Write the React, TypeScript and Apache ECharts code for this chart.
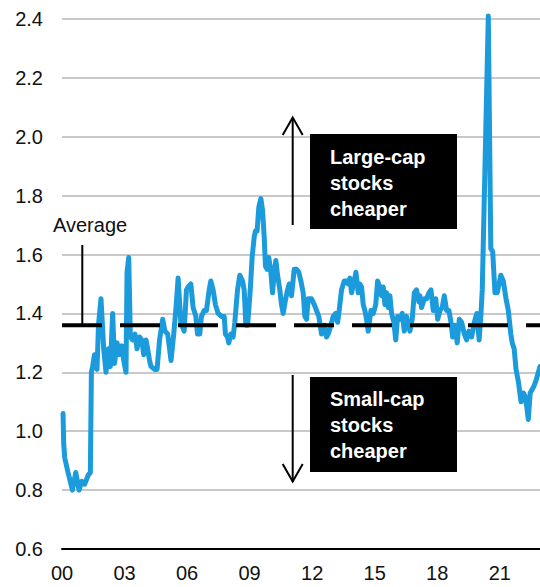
import React, { useEffect, useRef } from "react";
import * as echarts from "echarts";

// Years since 2000 (decimal) and large-cap / small-cap valuation ratio
const YEARS = [
  0.05, 0.08, 0.13, 0.29, 0.5, 0.66, 0.82, 0.95, 1.09, 1.25,
  1.36, 1.41, 1.47, 1.56, 1.68, 1.75, 1.87, 2.0, 2.11, 2.23,
  2.32, 2.43, 2.52, 2.64, 2.76, 2.87, 2.96, 3.07, 3.12, 3.2,
  3.28, 3.39, 3.5, 3.6, 3.72, 3.83, 3.92, 4.03, 4.11, 4.2,
  4.27, 4.44, 4.56, 4.68, 4.83, 4.94, 5.07, 5.23, 5.36, 5.47,
  5.57, 5.7, 5.86, 5.97, 6.05, 6.18, 6.29, 6.42, 6.5, 6.61,
  6.69, 6.82, 6.93, 7.06, 7.14, 7.25, 7.36, 7.49, 7.65, 7.78,
  7.84, 7.94, 8.0, 8.1, 8.21, 8.29, 8.42, 8.53, 8.66, 8.74,
  8.82, 8.9, 8.96, 9.04, 9.12, 9.22, 9.28, 9.36, 9.44, 9.54,
  9.62, 9.7, 9.76, 9.84, 9.92, 10.02, 10.1, 10.18, 10.26, 10.34,
  10.45, 10.53, 10.61, 10.73, 10.82, 10.9, 11.01, 11.14, 11.25, 11.36,
  11.46, 11.57, 11.65, 11.73, 11.81, 11.97, 12.1, 12.21, 12.32, 12.45,
  12.58, 12.69, 12.77, 12.9, 13.01, 13.13, 13.22, 13.28, 13.41, 13.54,
  13.65, 13.73, 13.81, 13.89, 14.02, 14.1, 14.21, 14.29, 14.37, 14.45,
  14.53, 14.61, 14.69, 14.82, 14.93, 15.05, 15.14, 15.25, 15.33, 15.41,
  15.49, 15.57, 15.65, 15.73, 15.81, 15.92, 16.01, 16.1, 16.21, 16.32,
  16.42, 16.53, 16.61, 16.69, 16.8, 16.9, 17.01, 17.12, 17.17, 17.25,
  17.38, 17.49, 17.6, 17.7, 17.81, 17.93, 18.02, 18.13, 18.24, 18.34,
  18.45, 18.56, 18.66, 18.74, 18.85, 18.96, 19.06, 19.17, 19.3, 19.41,
  19.52, 19.65, 19.78, 19.9, 20.01, 20.1, 20.16, 20.45, 20.57, 20.66,
  20.77, 20.88, 21.05, 21.17, 21.3, 21.41, 21.53, 21.6, 21.69, 21.78,
  21.89, 22.02, 22.13, 22.21, 22.3, 22.37, 22.46, 22.62, 22.73, 22.85,
  22.93,
];

const RATIO = [
  1.06, 0.96, 0.91, 0.86, 0.8, 0.86, 0.8, 0.83, 0.82, 0.85,
  0.86, 1.2, 1.22, 1.26, 1.21, 1.36, 1.45, 1.28, 1.2, 1.28,
  1.22, 1.4, 1.23, 1.3, 1.26, 1.29, 1.24, 1.2, 1.54, 1.59,
  1.32, 1.31, 1.33, 1.28, 1.32, 1.31, 1.26, 1.31, 1.28, 1.24,
  1.22, 1.21, 1.21, 1.31, 1.38, 1.34, 1.33, 1.24, 1.33, 1.42,
  1.52, 1.37, 1.34, 1.48, 1.49, 1.5, 1.42, 1.39, 1.33, 1.33,
  1.39, 1.41, 1.41, 1.48, 1.51, 1.48, 1.43, 1.4, 1.39, 1.39,
  1.33, 1.32, 1.3, 1.33, 1.32, 1.37, 1.48, 1.53, 1.51, 1.48,
  1.36, 1.36, 1.41, 1.49, 1.59, 1.66, 1.68, 1.68, 1.76, 1.79,
  1.75, 1.66, 1.56, 1.55, 1.59, 1.54, 1.47, 1.54, 1.58, 1.53,
  1.48, 1.43, 1.4, 1.45, 1.48, 1.5, 1.46, 1.55, 1.55, 1.54,
  1.51, 1.47, 1.39, 1.38, 1.45, 1.45, 1.43, 1.41, 1.39, 1.33,
  1.36, 1.32, 1.33, 1.36, 1.39, 1.4, 1.37, 1.4, 1.48, 1.51,
  1.51, 1.5, 1.52, 1.47, 1.51, 1.54, 1.47, 1.5, 1.49, 1.43,
  1.41, 1.38, 1.34, 1.41, 1.4, 1.43, 1.51, 1.49, 1.46, 1.49,
  1.43, 1.47, 1.42, 1.46, 1.4, 1.37, 1.31, 1.39, 1.38, 1.4,
  1.34, 1.39, 1.36, 1.34, 1.38, 1.47, 1.48, 1.44, 1.46, 1.42,
  1.45, 1.45, 1.47, 1.48, 1.41, 1.45, 1.38, 1.41, 1.42, 1.46,
  1.41, 1.41, 1.37, 1.32, 1.36, 1.3, 1.38, 1.37, 1.33, 1.31,
  1.34, 1.32, 1.37, 1.4, 1.31, 1.4, 1.48, 2.41, 1.62, 1.61,
  1.47, 1.47, 1.53, 1.51, 1.45, 1.41, 1.33, 1.3, 1.28, 1.21,
  1.17, 1.1, 1.13, 1.12, 1.08, 1.04, 1.13, 1.15, 1.17, 1.2,
  1.22,
];

const AVERAGE = 1.36;
const X_MIN = 0;
const X_MAX = 22.93;
const X_INTERVAL = 3;
const Y_MIN = 0.6;
const Y_MAX = 2.4;
const Y_INTERVAL = 0.2;

const FONT = '"Liberation Sans", Arial, Helvetica, sans-serif';

export default function App() {
  const ref = useRef<HTMLDivElement>(null);

  useEffect(() => {
    document.body.style.margin = "0";
    if (!ref.current) return;
    const chart = echarts.init(ref.current, null, { renderer: "svg" });
    const data = YEARS.map((x, i) => [x, RATIO[i]]);

    chart.setOption({
      animation: false,
      grid: { left: 62, right: 0, top: 19, bottom: 38, containLabel: false },
      xAxis: {
        type: "value",
        min: X_MIN,
        max: X_MAX,
        interval: X_INTERVAL,
        axisLine: { show: true, lineStyle: { color: "#000", width: 2 } },
        axisTick: { show: false },
        splitLine: { show: false },
        axisLabel: {
          showMaxLabel: false,
          margin: 14,
          color: "#111",
          fontSize: 20,
          fontFamily: FONT,
          formatter: (v: number) =>
            Math.abs(v % 3) < 1e-6 ? String(Math.round(v)).padStart(2, "0") : "",
        },
      },
      yAxis: {
        type: "value",
        min: Y_MIN,
        max: Y_MAX,
        interval: Y_INTERVAL,
        axisLine: { show: false },
        axisTick: { show: false },
        splitLine: { show: true, lineStyle: { color: "#c8c8c8", width: 2 } },
        axisLabel: {
          margin: 19,
          color: "#111",
          fontSize: 20,
          fontFamily: FONT,
          formatter: (v: number) => v.toFixed(1),
        },
      },
      series: [
        {
          type: "line",
          data,
          clip: false,
          showSymbol: false,
          symbol: "none",
          lineStyle: { color: "#1b9bdb", width: 5, cap: "round", join: "round" },
          z: 2,
        },
        {
          type: "line",
          data: [
            [X_MIN, AVERAGE],
            [X_MAX, AVERAGE],
          ],
          showSymbol: false,
          symbol: "none",
          lineStyle: { color: "#000", width: 4, type: [40, 18] },
          z: 3,
        },
      ],
      graphic: [
        {
          type: "text",
          z: 10,
          style: {
            text: "Average",
            x: 53,
            y: 225,
            fontSize: 20,
            fontFamily: FONT,
            fill: "#111",
            verticalAlign: "middle",
          },
        },
        {
          type: "line",
          z: 10,
          shape: { x1: 82.3, y1: 245, x2: 82.3, y2: 325 },
          style: { stroke: "#000", lineWidth: 2 },
        },
        {
          type: "line",
          z: 10,
          shape: { x1: 292.7, y1: 118, x2: 292.7, y2: 225 },
          style: { stroke: "#000", lineWidth: 2 },
        },
        {
          type: "polyline",
          z: 10,
          shape: { points: [[282.7, 135], [292.7, 117.5], [302.7, 135]] },
          style: { stroke: "#000", lineWidth: 2, fill: "none" },
        },
        {
          type: "line",
          z: 10,
          shape: { x1: 292.7, y1: 375, x2: 292.7, y2: 482 },
          style: { stroke: "#000", lineWidth: 2 },
        },
        {
          type: "polyline",
          z: 10,
          shape: { points: [[282.7, 464], [292.7, 481.5], [302.7, 464]] },
          style: { stroke: "#000", lineWidth: 2, fill: "none" },
        },
        {
          type: "rect",
          z: 10,
          shape: { x: 310, y: 134, width: 147, height: 95 },
          style: { fill: "#000" },
        },
        {
          type: "rect",
          z: 10,
          shape: { x: 310, y: 377, width: 147, height: 95 },
          style: { fill: "#000" },
        },
        {
          type: "text",
          z: 11,
          style: {
            text: "Large-cap\nstocks\ncheaper",
            x: 330,
            y: 144,
            fontSize: 20,
            fontWeight: "bold",
            fontFamily: FONT,
            lineHeight: 26,
            fill: "#fff",
            verticalAlign: "top",
          },
        },
        {
          type: "text",
          z: 11,
          style: {
            text: "Small-cap\nstocks\ncheaper",
            x: 330,
            y: 386,
            fontSize: 20,
            fontWeight: "bold",
            fontFamily: FONT,
            lineHeight: 26,
            fill: "#fff",
            verticalAlign: "top",
          },
        },
      ],
    });

    return () => chart.dispose();
  }, []);

  return <div ref={ref} style={{ width: 540, height: 587 }} />;
}
